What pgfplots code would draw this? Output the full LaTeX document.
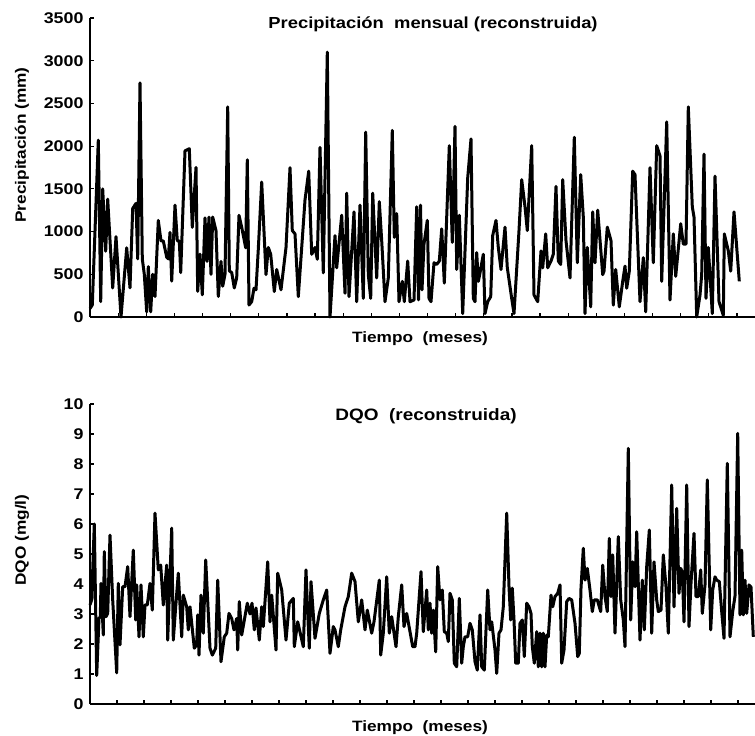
\documentclass[border=0pt]{standalone}
\usepackage{pgfplots}
\pgfplotsset{compat=1.18}
\usepackage{fontspec}
\setmainfont{Liberation Sans}[FakeStretch=1.15]
\begin{document}
\begin{tikzpicture}
\path[use as bounding box] (0pt,0pt) rectangle (755pt,736pt);
\pgfplotsset{
  panel/.style={
    scale only axis, width=665pt, xmin=0, xmax=665, ymin=0,
    axis x line=bottom, axis y line=left, axis line style={-, line width=1.5pt},
    tick align=inside, major tick length=4pt, tick style={line width=1.2pt, black},
    xticklabels={}, clip=false,
    /pgf/number format/assume math mode=true,
    /pgf/number format/1000 sep={},
    tick label style={font=\fontsize{15.5}{15.5}\selectfont\bfseries},
    yticklabel style={xshift=-3pt},
  },
  serie/.style={black, line width=3pt, line join=round, no markers},
}
% ---------------- Precipitación ----------------
\begin{axis}[panel, at={(90pt,419pt)}, anchor=south west, height=299pt,
  ymax=3500, ytick={0,500,...,3500}, xtick={0,28.13,...,650}]
\addplot[serie] table {
x y
0 100
2.3 140
8.3 2070
10.7 180
12.7 1500
15.7 770
17.7 1380
22.7 340
26 940
31 0
36.7 810
40 340
42.7 1270
46 1330
47.7 680
50 2740
52.3 680
54.3 500
56.7 60
58.3 590
60.7 60
62.7 500
65 240
68.3 1130
71 890
73.3 890
76.7 700
78.3 680
80 990
81.7 420
85 1310
87.3 890
89.3 890
90.7 520
95 1945
99.3 1970
102.3 1050
106 1750
107.7 300
110 735
112.3 260
115 1160
117 650
119 1170
121 500
122.7 1170
126 1010
128.3 240
131 650
132.7 360
135 500
137.7 2460
139.3 540
141.7 520
144.3 340
146.7 460
149 1190
151.7 1050
155.7 810
157.3 1840
159 140
161.7 180
164 337
166 318
168.3 794
171.7 1580
176 496
178.3 814
180.7 734
184.3 298
186.7 556
191 318
196 814
200 1747
202.3 1012
205 973
208.3 238
215 1370
218.7 1707
221.7 734
225 814
227.3 675
230 1985
233.3 516
237.3 3100
240 0
245 953
246.7 576
251.7 1191
255 278
256.7 1449
259 238
264 1231
266.7 179
270 1310
273.3 218
275.7 2164
278.3 496
280.7 218
282.7 1449
286.7 457
289.3 1350
291.7 893
295 179
298.3 457
302.3 2184
304.3 933
306.7 1211
309 179
312.3 417
314.3 179
317.7 655
320 179
324 199
326.7 1290
328.5 200
330.5 1310
332 318
334 853
337.3 1131
339 218
341 179
344 635
346.7 615
349.3 655
351.7 1032
354.3 397
359.3 2005
362.3 873
365 2231
366.7 556
369.3 1191
372.7 40
377.7 1628
381 2084
383.3 218
385 179
386.7 754
388.3 417
390 516
393.3 734
395 40
397.7 179
400.7 238
402.7 953
406 1131
408.3 814
411 556
415 1052
417.3 576
421.7 218
424 40
429 1012
431.7 1608
435 1290
437.3 1012
441.7 2005
444 258
447.7 179
451 774
452.7 576
455.7 973
457.7 576
461 655
463.3 734
466 1528
468.3 655
470.7 615
472.7 1608
476 893
480 457
484.3 2104
487.3 635
490.7 1667
493.3 1171
495 40
497.3 814
500.7 119
502.7 1231
505 635
507.7 1251
512.7 496
514 536
517.3 1052
521 893
523.3 139
525.7 556
529.3 119
532.7 417
535 596
536.7 337
539.3 536
542.7 1707
545 1667
550 179
553.3 695
555.7 60
560 1747
563.3 635
566.7 2005
570 1886
571.7 417
576.7 2283
580 199
583.3 973
585.7 476
590.7 1092
593.3 854
596 854
598.3 2460
602.3 1290
604 1171
606.7 0
610 258
611.7 496
614 1906
616 218
618.3 814
622.3 40
625 1648
629 179
633.3 20
634.3 973
638.3 774
640.7 536
644 1231
649.3 417
};
\end{axis}
% ---------------- DQO ----------------
\begin{axis}[panel, at={(90pt,32pt)}, anchor=south west, height=300pt,
  ymax=10, ytick={0,1,...,10}, xtick={0,27,...,650}]
\addplot[serie] table {
x y
0 3.3
1.7 3.47
4.3 6.0
6.7 0.95
9 2.86
10.3 2.9
11 4.02
13.3 2.3
14.3 5.08
16 2.91
17.7 3.02
20 5.63
22.7 3.47
26.7 1.04
28.3 4.02
30 1.97
32.7 3.91
35 3.91
37.7 4.58
40 2.91
43.3 5.13
45.7 2.8
46.7 3.97
49 2.24
51 3.97
53.3 2.24
55 3.3
57.3 3.3
60 4.02
62.3 3.13
65 6.36
68.3 4.47
70.7 4.63
73.3 3.3
76.7 4.63
77.7 2.13
81.7 5.86
83.3 2.13
85.7 3.24
88.3 4.36
91.7 2.24
93.3 3.63
96.7 3.24
98.3 2.47
100 3.24
104.3 1.86
106.7 1.97
107.7 2.97
109 1.63
111 3.63
113.3 2.36
115.7 4.8
120 1.86
122.3 1.63
125.7 1.86
127.7 4.13
131 1.41
134.3 2.24
136.7 2.36
139 3.02
141.7 2.85
144 2.47
146.7 2.85
147.7 1.8
149.3 3.41
151.7 2.3
157.3 3.36
160 3.0
162 3.36
164.3 2.47
166 3.2
169.3 2.13
171.7 3.24
173.3 2.58
177.7 4.74
180 2.74
181.7 3.63
186 1.8
187.7 4.36
191.7 3.8
196 2.13
199.3 3.36
203.3 3.52
204.3 1.91
207.7 2.74
213.3 1.91
216 4.47
217.7 3.02
219.3 1.86
221 4.08
225 2.19
229.3 3.02
233.3 3.47
236.7 3.8
240 1.69
243.3 2.58
245 2.47
248.3 1.91
250.7 2.47
255 3.24
258.3 3.58
261.7 4.36
265 4.08
268.3 2.74
271.7 3.47
275 2.47
277.3 3.13
281.7 2.36
284 2.74
289.3 4.13
290.7 1.63
293.3 2.36
296.7 4.24
299.3 2.36
301.7 2.91
306 1.91
308.3 2.91
311.7 3.97
314 2.58
316.7 3.02
322.7 1.91
325 1.91
326.7 2.36
331 4.41
333.3 2.41
336.7 3.8
338.3 2.47
340 3.36
341.7 2.36
343.3 3.13
345.7 1.74
347.7 4.58
350 3.47
352.3 3.8
354.3 2.41
356.7 2.36
358.3 2.08
360 3.69
362.3 3.47
364.3 1.36
366.7 1.24
369.3 3.52
371.7 1.36
373.3 1.91
375 2.24
377.7 2.24
380 2.69
382.3 2.47
385 1.41
387.3 1.13
390 2.97
391.7 1.24
394.3 1.13
397.7 3.8
400 2.47
401.7 2.74
405 1.8
406.7 1.02
409 2.36
411 2.47
413.3 3.24
415 4.8
416.7 6.36
419 3.91
420.7 2.8
422.3 3.86
424 2.8
425.7 1.36
428.3 1.36
430 2.69
432.3 2.8
434.3 1.58
436.7 3.36
439 3.24
441 3.02
442.3 1.91
444.3 1.36
446.7 2.41
448.3 1.24
450 2.36
451.7 1.24
453.3 2.36
455 1.24
456.7 2.3
458.3 2.24
461 3.63
462.7 3.24
465 3.58
467.7 3.69
470 3.97
471.7 1.36
474 1.8
476.7 3.41
479 3.52
481.7 3.47
485 2.69
487.7 1.58
489.3 1.69
491 3.86
493.3 5.19
495 4.13
497.3 4.52
500 3.8
502.3 3.08
504.3 3.47
507.3 3.47
510.7 3.08
512.7 4.63
515 3.58
517.3 3.08
519.3 5.52
521 3.58
522.7 4.97
525 2.36
528.3 5.58
530.7 3.47
533.3 2.8
535 1.91
538.3 8.52
540.7 2.8
542.7 4.74
545 3.91
546.7 5.74
550 2.13
552.3 4.13
554.3 2.47
556.7 4.58
559.3 5.8
561.7 2.36
564 4.74
566.7 3.47
568.3 3.08
571 3.13
573.3 4.97
576 3.91
578.3 2.36
581.7 7.3
584 3.24
586.7 6.52
589 3.69
590.7 4.52
592.3 4.4
594 2.74
596.7 7.3
599 2.58
601 4.02
604 5.69
606 3.58
608.3 3.58
610.7 4.47
612.3 3.02
615 3.97
617.3 7.47
620.7 2.47
622.7 3.8
625 4.24
626.7 4.13
629.3 4.08
631.7 3.08
634 2.19
637.3 8.02
640 2.24
642.7 3.08
645 3.6
647.7 9.02
650 2.97
651.7 5.13
653.3 2.97
655 4.13
656.7 3.02
659 3.97
661 3.9
663.3 2.24
};
\end{axis}
% ---------------- texts ----------------
\node[font=\fontsize{16}{16}\selectfont\bfseries] at (433pt,712pt) {Precipitación\ \ mensual (reconstruida)};
\node[font=\fontsize{15}{15}\selectfont\bfseries] at (420pt,397pt) {Tiempo\ \ (meses)};
\node[font=\fontsize{15}{15}\selectfont\bfseries, rotate=90] at (22pt,591pt) {Precipitación (mm)};
\node[font=\fontsize{16.5}{16.5}\selectfont\bfseries] at (426pt,320pt) {DQO\ \ (reconstruida)};
\node[font=\fontsize{15}{15}\selectfont\bfseries] at (420pt,8pt) {Tiempo\ \ (meses)};
\node[font=\fontsize{15}{15}\selectfont\bfseries, rotate=90] at (22pt,196pt) {DQO (mg/l)};
\end{tikzpicture}
\end{document}
